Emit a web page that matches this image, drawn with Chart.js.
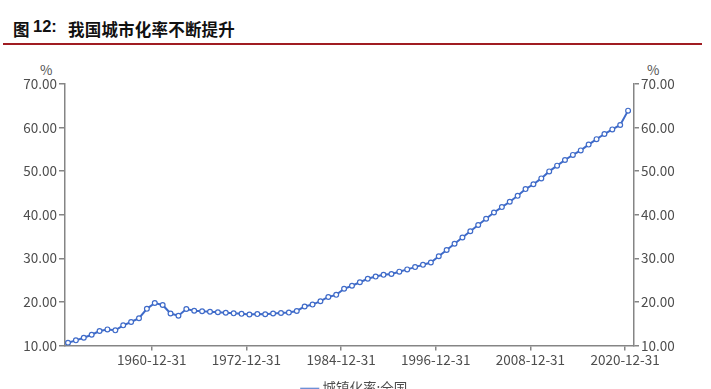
<!DOCTYPE html>
<html>
<head>
<meta charset="utf-8">
<script src="https://cdn.jsdelivr.net/npm/chart.js@4.4.0/dist/chart.umd.min.js"></script>
<style>
  html, body { margin: 0; padding: 0; background: #fff; width: 711px; height: 389px; overflow: hidden; }
  #wrap { position: relative; width: 711px; height: 389px; overflow: hidden; }
  .ttl { position: absolute; top: 17px; font-family: "Noto Sans CJK SC", sans-serif; font-weight: bold; font-size: 16.5px; color: #111; white-space: nowrap; }
  #rule { position: absolute; left: 3px; top: 43px; width: 699px; height: 2px; background: #a01c22; }
  .unit { position: absolute; top: 59px; font-family: "Noto Sans CJK SC", sans-serif; font-size: 13.5px; color: #555; }
  #chartBox { position: absolute; left: 0; top: 0; width: 711px; height: 405px; }
</style>
</head>
<body>
<div id="wrap">
  <span class="ttl" style="left:13px">图</span>
  <span class="ttl" style="left:33px; font-family:'Liberation Sans', sans-serif;">12:</span>
  <span class="ttl" style="left:68px; letter-spacing:0.2px">我国城市化率不断提升</span>
  <div id="rule"></div>
  <span class="unit" style="left:40px">%</span>
  <span class="unit" style="left:647px">%</span>
  <div id="chartBox"><canvas id="urbanChart" width="711" height="405"></canvas></div>
</div>
<script>
var SERIES_NAME = '城镇化率:全国';
var YEARS = [];
for (var i = 1949; i <= 2020; i++) { YEARS.push(i); }
var URBAN_RATE = [
  10.64, 11.18, 11.78, 12.46, 13.31, 13.69, 13.48, 14.62, 15.39, 16.25,
  18.41, 19.75, 19.29, 17.33, 16.84, 18.37, 17.98, 17.86, 17.74, 17.62,
  17.50, 17.38, 17.26, 17.13, 17.20, 17.16, 17.34, 17.44, 17.55, 17.92,
  18.96, 19.39, 20.16, 21.13, 21.62, 23.01, 23.71, 24.52, 25.32, 25.81,
  26.21, 26.41, 26.94, 27.46, 27.99, 28.51, 29.04, 30.48, 31.91, 33.35,
  34.78, 36.22, 37.66, 39.09, 40.53, 41.76, 42.99, 44.34, 45.89, 46.99,
  48.34, 49.95, 51.27, 52.57, 53.73, 54.77, 56.10, 57.35, 58.52, 59.58,
  60.60, 63.89
];
var TICK_YEARS = [1960, 1972, 1984, 1996, 2008, 2020];
var Y_MIN = 10;
var Y_MAX = 70;

var LINE_COLOR = '#3f6bc9';
var AXIS_COLOR = '#858585';
var TEXT_COLOR = '#4d4d4d';
var FONT = { family: '"Noto Sans CJK SC", sans-serif', size: 13.5 };

function drawUrbanChart()
{
  var points = [];
  for (var i = 0; i < YEARS.length; i++) {
    points.push({ x: YEARS[i], y: URBAN_RATE[i] });
  }

  var yTicks = {
    color: TEXT_COLOR,
    font: FONT,
    padding: 2,
    stepSize: 10,
    callback: function(v) { return v.toFixed(2); }
  };

  var ctx = document.getElementById('urbanChart');
  var myLineChart = new Chart(ctx, {
    type: 'line',
    data: {
      datasets: [{
        label: SERIES_NAME,
        data: points,
        borderColor: LINE_COLOR,
        borderWidth: 2,
        pointRadius: 2.4,
        pointBorderWidth: 1.2,
        pointBackgroundColor: '#ffffff',
        pointBorderColor: LINE_COLOR,
        tension: 0,
        yAxisID: 'y'
      }]
    },
    options: {
      responsive: false,
      animation: false,
      layout: { padding: { top: 84, left: 0, right: 0, bottom: 0 } },
      plugins: {
        tooltip: { enabled: false },
        legend: {
          position: 'bottom',
          labels: {
            usePointStyle: true,
            pointStyle: 'line',
            boxWidth: 12,
            padding: 8,
            color: TEXT_COLOR,
            font: FONT
          }
        }
      },
      scales: {
        x: {
          type: 'linear',
          min: 1948.62,
          max: 2020.75,
          afterBuildTicks: function(scale) {
            // 刻度放在年末
            scale.ticks = TICK_YEARS.map(function(y) { return { value: y - 0.38 }; });
          },
          afterFit: function(scale) { scale.height = 28; },
          ticks: {
            color: TEXT_COLOR,
            font: FONT,
            padding: 1,
            maxRotation: 0,
            autoSkip: false,
            callback: function(v) { return Math.round(v) + '-12-31'; }
          },
          grid: { display: true, drawOnChartArea: false, tickLength: 5, color: AXIS_COLOR, lineWidth: 1.5 },
          border: { color: AXIS_COLOR, width: 1.5 }
        },
        y: {
          position: 'left',
          min: Y_MIN,
          max: Y_MAX,
          afterFit: function(scale) { scale.width = 65; },
          ticks: yTicks,
          grid: { display: true, drawOnChartArea: false, tickLength: 6, color: AXIS_COLOR, lineWidth: 1.5 },
          border: { color: AXIS_COLOR, width: 1.5 }
        },
        y2: {
          position: 'right',
          min: Y_MIN,
          max: Y_MAX,
          afterFit: function(scale) { scale.width = 77; },
          ticks: yTicks,
          grid: { display: true, drawOnChartArea: false, tickLength: 5, color: AXIS_COLOR, lineWidth: 1.5 },
          border: { color: AXIS_COLOR, width: 1.5 }
        }
      }
    }
  });
}

drawUrbanChart();
</script>
</body>
</html>
